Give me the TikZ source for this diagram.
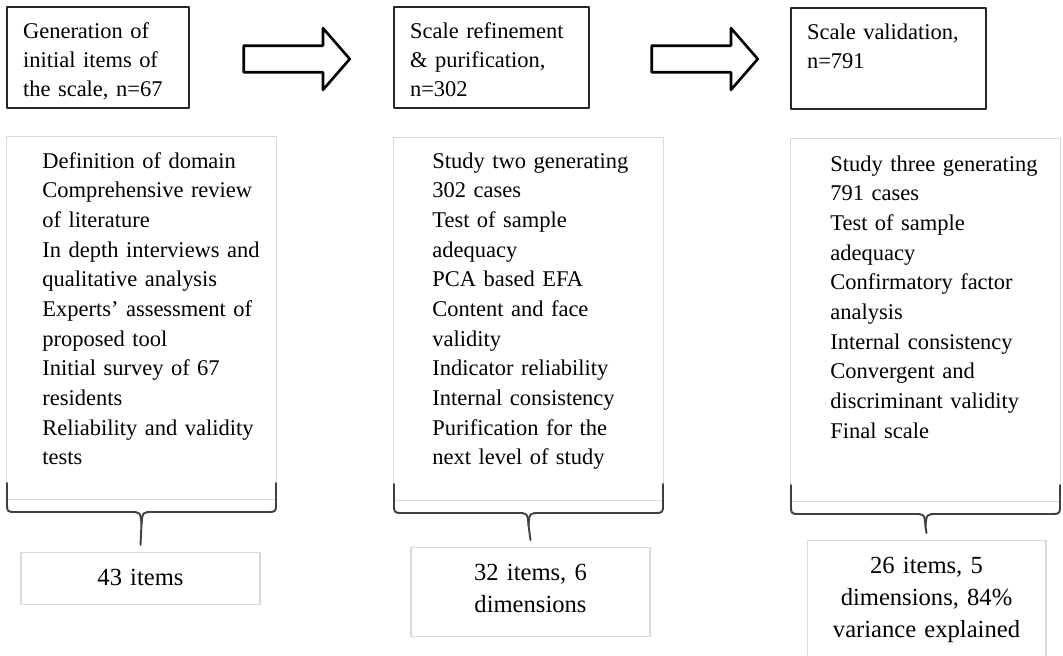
\documentclass[tikz,border=0pt]{standalone}
\usepackage{fontspec}
\setmainfont{Liberation Serif}
\usepackage{tikz}
\usetikzlibrary{arrows.meta,shapes,positioning}
\usetikzlibrary{calc}
\newcommand{\drawBrace}[2]{
    \draw[brace] ([shift={(1,17)}]#1.south west) -- ([shift={(1,-3)}]#1.south west)
        .. controls ([shift={(1,-12)}]#1.south west) .. ([shift={(10,-12)}]#1.south west)
        -- ([shift={(-12,-12)}]#1.south)
        .. controls ([shift={(-1,-12)}]#1.south) .. ([shift={(0,-24)}]#1.south);
    \draw[brace] ([shift={(-1,17)}]#1.south east) -- ([shift={(-1,-3)}]#1.south east)
        .. controls ([shift={(-1,-12)}]#1.south east) .. ([shift={(-10,-12)}]#1.south east)
        -- ([shift={(12,-12)}]#1.south)
        .. controls ([shift={(1,-12)}]#1.south) .. ([shift={(0,-24)}]#1.south);
    \draw[brace] ([shift={(0,-24)}]#1.south) -- ([shift={(0,7)}]#2.north);
}

\begin{document}
\begin{tikzpicture}[x=0.02cm,y=0.02cm,line cap=round,line join=round,
    stage/.style={draw=black!85,line width=1.2pt,anchor=north west,align=left,
        inner xsep=0.32cm,inner ysep=0pt,text height=0.62cm,text depth=1.4cm,
        font=\fontsize{12.8}{16.5}\selectfont},
    blockarrow/.style={shape=single arrow,draw=black,line width=1.5pt,fill=white,
        single arrow head extend=0.35cm,single arrow tip angle=98,
        minimum height=2.12cm,inner xsep=0pt,inner ysep=0.24cm},
    frame/.style={draw=black!15,line width=0.6pt,anchor=north west,
        minimum width=5.4cm,minimum height=7.26cm,inner sep=0pt},
    list/.style={anchor=base west,align=left,text width=4.6cm,inner sep=0pt,
        font=\fontsize{12.8}{16.9}\selectfont},
    result/.style={draw=black!15,line width=0.6pt,anchor=north,align=center,
        text width=4.38cm,inner xsep=0.2cm,inner ysep=0pt,text height=0.66cm,
        font=\fontsize{14}{18.2}\selectfont},
    brace/.style={draw=black!75,line width=1.1pt}]
    \useasboundingbox (0,0) rectangle (1063,-656);

    \node[stage,text width=3cm] (genStage) at (6,-6) {Generation of\\initial items of\\the scale, n=67};
    \node[stage,text width=3.26cm] (refStage) at (393,-6) {Scale refinement\\\& purification,\\n=302};
    \node[stage,text width=3.26cm] (valStage) at (790,-7) {Scale validation,\\n=791};

    \node[blockarrow] (genToRef) at (291,-59) {};
    \node[blockarrow] (refToVal) at (699,-59) {};

    \node[frame] (genFrame) at (6,-136) {};
    \node[frame] (refFrame) at (393,-137) {};
    \node[frame] (valFrame) at (790,-138) {};

    \node[list] (genList) at (42,-168) {Definition of domain\\Comprehensive review\\of literature\\In depth interviews and\\qualitative analysis\\Experts' assessment of\\proposed tool\\Initial survey of 67\\residents\\Reliability and validity\\tests};
    \node[list] (refList) at (432,-168) {Study two generating\\302 cases\\Test of sample\\adequacy\\PCA based EFA\\Content and face\\validity\\Indicator reliability\\Internal consistency\\Purification for the\\next level of study};
    \node[list] (valList) at (830,-171) {Study three generating\\791 cases\\Test of sample\\adequacy\\Confirmatory factor\\analysis\\Internal consistency\\Convergent and\\discriminant validity\\Final scale};

    \node[result,text depth=0.38cm] (genResult) at (140.5,-552) {43 items};
    \node[result,text depth=1.12cm] (refResult) at (530.5,-547) {32 items, 6\\dimensions};
    \node[result,text depth=2.6cm] (valResult) at (926.5,-540) {26 items, 5\\dimensions, 84\%\\variance explained};

    \drawBrace{genFrame}{genResult}
    \drawBrace{refFrame}{refResult}
    \drawBrace{valFrame}{valResult}
\end{tikzpicture}
\end{document}
